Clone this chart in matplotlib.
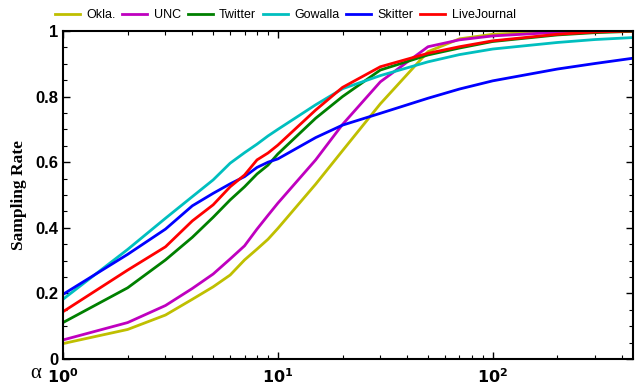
import math
import matplotlib
matplotlib.use('Agg')
import matplotlib.pyplot as plt
from matplotlib.ticker import FixedLocator, MultipleLocator, FuncFormatter

# alpha values where the curves were sampled
alpha = [1, 2, 3, 4, 5, 6, 7, 8, 9, 10, 15, 20, 30, 50, 70, 100, 200, 300, 450]

okla    = [0.047, 0.090, 0.134, 0.182, 0.220, 0.256, 0.302, 0.335, 0.365, 0.398,
           0.533, 0.635, 0.778, 0.937, 0.976, 0.990, 0.999, 1.0, 1.0]
unc     = [0.058, 0.111, 0.163, 0.215, 0.259, 0.305, 0.345, 0.396, 0.438, 0.475,
           0.607, 0.715, 0.845, 0.952, 0.973, 0.985, 0.996, 0.999, 1.0]
twitter = [0.111, 0.217, 0.302, 0.371, 0.432, 0.485, 0.525, 0.564, 0.591, 0.625,
           0.734, 0.800, 0.881, 0.927, 0.948, 0.968, 0.988, 0.995, 0.999]
gowalla = [0.182, 0.334, 0.429, 0.495, 0.546, 0.597, 0.629, 0.655, 0.680, 0.700,
           0.775, 0.824, 0.864, 0.906, 0.928, 0.945, 0.965, 0.974, 0.980]
skitter = [0.197, 0.319, 0.396, 0.467, 0.505, 0.534, 0.556, 0.584, 0.600, 0.610,
           0.675, 0.713, 0.749, 0.795, 0.823, 0.848, 0.884, 0.901, 0.917]
livejournal = [0.144, 0.271, 0.342, 0.421, 0.470, 0.525, 0.561, 0.607, 0.628, 0.652,
               0.759, 0.828, 0.891, 0.932, 0.952, 0.970, 0.990, 0.997, 1.0]

names = ['Okla.', 'UNC', 'Twitter', 'Gowalla', 'Skitter', 'LiveJournal']
colors = ['#BFBF00', '#BF00BF', '#008000', '#00BFBF', '#0000FF', '#FF0000']
series = [okla, unc, twitter, gowalla, skitter, livejournal]

fig = plt.figure(figsize=(6.38, 3.86), dpi=100)
ax = fig.add_axes([0.0987, 0.070, 0.8935, 0.8497])

for name, c, s in zip(names, colors, series):
    ax.plot(alpha, s, color=c, lw=2, label=name)

ax.set_xscale('log')
ax.set_xlim(1, 450)
ax.set_ylim(0, 1)

ax.yaxis.set_major_locator(MultipleLocator(0.2))
ax.yaxis.set_minor_locator(MultipleLocator(0.05))
ax.yaxis.set_major_formatter(FuncFormatter(lambda v, p: '%g' % round(v, 2)))
ax.xaxis.set_major_locator(FixedLocator([1, 10, 100]))
ax.xaxis.set_major_formatter(FuncFormatter(
    lambda v, p: r'$\mathbf{10^{%d}}$' % round(math.log10(v))))

ax.tick_params(which='both', direction='in', top=True, right=True)
ax.tick_params(which='major', length=5, width=1, labelsize=12)
ax.tick_params(axis='x', which='major', pad=6, labelsize=11.5)
ax.tick_params(which='minor', length=3, width=0.8)
for lbl in ax.get_yticklabels():
    lbl.set_fontweight('bold')
    lbl.set_family('Liberation Sans')
for sp in ax.spines.values():
    sp.set_linewidth(1.5)

ax.set_ylabel('Sampling Rate', family='Liberation Serif', fontweight='bold',
              fontsize=12.5, labelpad=6)
fig.text(36 / 638, 1 - 373 / 386, 'α', family='Liberation Serif', fontsize=15,
         ha='center', va='center')

fig.legend(loc='center', bbox_to_anchor=(0.447, 0.961), ncol=6, frameon=False,
           prop={'family': 'Liberation Sans', 'size': 9},
           handlelength=2.0, handletextpad=0.5, columnspacing=0.55)

fig.savefig('out.png', dpi=100)
